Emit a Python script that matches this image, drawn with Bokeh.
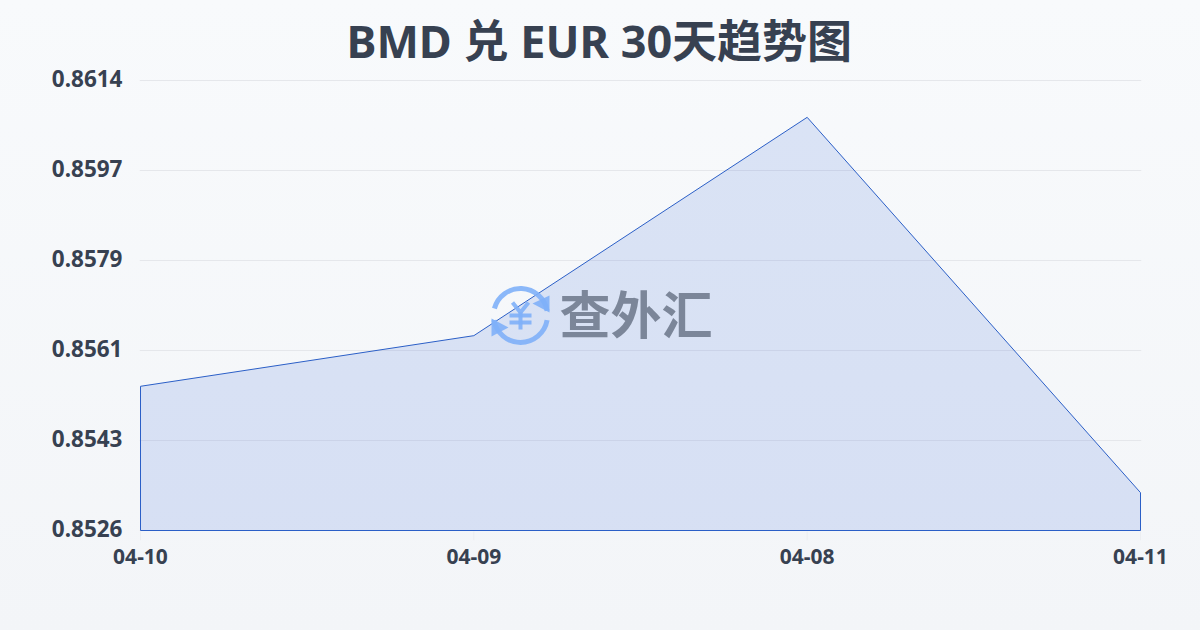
from bokeh.plotting import figure
from bokeh.embed import file_html
from bokeh.resources import INLINE
from bokeh.models import Range1d, Label, FixedTicker
import numpy as np

title = "BMD 兑 EUR 30天趋势图"
dates = ["04-10", "04-09", "04-08", "04-11"]
rates = [0.85542, 0.85641, 0.86068, 0.85334]
y_ticks = [0.8526, 0.85436, 0.85612, 0.85788, 0.85964, 0.8614]
y_labels = ["0.8526", "0.8543", "0.8561", "0.8579", "0.8597", "0.8614"]
watermark = "查外汇"

INK = "#374151"
LINE = "#2b5fc7"
FONT = "'Noto Sans', 'Noto Sans CJK SC'"
BASE = y_ticks[0]
L, R, T, B = 140, 1140, 80, 530
PAD = 10   # the frame extends past the plot box, so edge lines are not clipped
PADX = 1
per_px = (y_ticks[-1] - y_ticks[0]) / (B - T)
per_px_x = (len(dates) - 1) / (R - L)
y0, y1 = y_ticks[0] - PAD * per_px, y_ticks[-1] + PAD * per_px

p = figure(width=1200, height=630, output_backend="svg", toolbar_location=None,
           x_range=Range1d(-PADX * per_px_x, len(dates) - 1 + PADX * per_px_x), y_range=Range1d(y0, y1),
           min_border_left=L - PADX, min_border_right=1200 - R - PADX,
           min_border_top=T - PAD, min_border_bottom=630 - B - PAD,
           margin=(0, 0, 0, 0))
p.styles = {"background": "linear-gradient(180deg,#f8fafc 0%,#f3f5f8 100%)",
            "position": "fixed", "left": "0", "top": "0"}
p.background_fill_alpha = 0
p.border_fill_alpha = 0
p.outline_line_color = None
# y labels sit 2px above their grid lines
p.extra_y_ranges = {"labels": Range1d(y0 - 2 * per_px, y1 - 2 * per_px)}
p.yaxis[0].y_range_name = "labels"

p.title.text = title
p.title.align = "left"
p.title.text_font = FONT
p.title.text_font_style = "bold"
p.title.text_font_size = "45px"
p.title.text_color = INK
p.title.offset = 207
p.title.standoff = 0

x = list(range(len(dates)))
px = x + [x[-1], x[0]]
py = rates + [BASE, BASE]

p.xgrid.visible = False
p.ygrid.ticker = FixedTicker(ticks=y_ticks)
p.ygrid.grid_line_color = "#e5e7eb"
p.ygrid.grid_line_width = 1

p.patch(px, py, fill_color="#3565d9", fill_alpha=0.15, line_color=LINE, line_width=1)

for ax, ticks, labels in ((p.xaxis[0], x, dates), (p.yaxis[0], y_ticks, y_labels)):
    ax.ticker = FixedTicker(ticks=ticks)
    ax.major_label_overrides = dict(zip(ticks, labels))
    ax.axis_line_color = None
    ax.minor_tick_line_color = None
    ax.major_label_text_font = FONT
    ax.major_label_text_font_style = "bold"
    ax.major_label_text_color = INK
p.xaxis[0].major_tick_line_color = None
p.xaxis[0].major_label_text_font_size = "21px"
p.xaxis[0].major_label_standoff = 2
p.yaxis[0].major_tick_line_color = None
p.yaxis[0].major_label_text_font_size = "22.5px"
p.yaxis[0].major_label_standoff = 11

# pixel helpers for the decorative marks
def dx(sx): return (sx - L) * per_px_x
def dy(sy): return y_ticks[0] + (B - sy) * per_px

# faint x ticks below the plot box
p.segment(x, [dy(B + 1)] * len(x), x, [dy(B + PAD)] * len(x), line_color="#eceef1", line_width=1)

C = "#7fb0f8"
cx, cy, r = 520, 315, 27
p.arc(dx(cx), dy(cy), radius=r, radius_units="screen", start_angle=np.radians(10), end_angle=np.radians(165),
      line_color=C, line_width=5, line_alpha=0.9)
p.arc(dx(cx), dy(cy), radius=r, radius_units="screen", start_angle=np.radians(190), end_angle=np.radians(350),
      line_color=C, line_width=5, line_alpha=0.9)
p.patch([dx(s) for s in (532, 549, 549)], [dy(s) for s in (303, 295, 312)], fill_color=C, line_color=None, fill_alpha=0.9)
p.patch([dx(s) for s in (491, 508, 491)], [dy(s) for s in (318, 327, 336)], fill_color=C, line_color=None, fill_alpha=0.9)
p.multi_line([[dx(512), dx(520), dx(528)], [dx(509), dx(531)], [dx(509), dx(531)], [dx(520), dx(520)]],
             [[dy(302), dy(312), dy(302)], [dy(315), dy(315)], [dy(322), dy(322)], [dy(312), dy(329)]],
             line_color=C, line_width=4, line_alpha=0.9)
p.add_layout(Label(x=dx(559), y=dy(311), text=watermark, text_font="Noto Sans CJK SC", text_font_style="bold",
                   text_font_size="51px", text_color="#6b7588", text_alpha=0.85, text_baseline="middle"))

open("out.html", "w").write(file_html(p, INLINE))
